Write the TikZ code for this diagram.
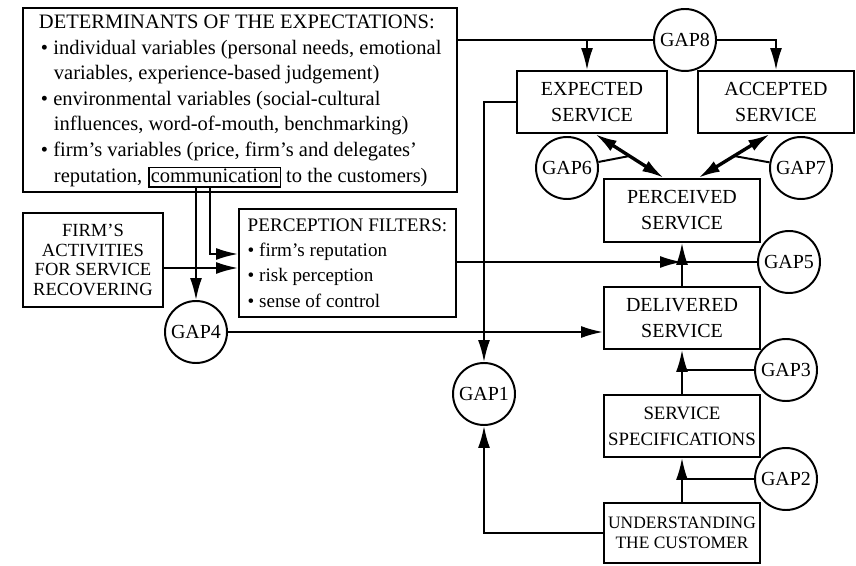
\documentclass[tikz,border=0pt]{standalone}
\usepackage{fontspec}
\setmainfont{Liberation Serif}
\usetikzlibrary{arrows.meta}
\tikzstyle{every picture}=[line width=1.4pt, >={Latex[length=5.5mm,width=3mm]}]
\tikzstyle{thickarrow}=[line width=2.4pt]
\tikzstyle{servicebox}=[rectangle, draw, align=center, inner sep=0pt, font=\fontsize{14.2}{18.5}\selectfont]
\tikzstyle{gap}=[circle, draw, minimum size=15.5mm, inner sep=0pt, font=\fontsize{14.2}{16}\selectfont]
\tikzstyle{txt}=[anchor=base west, inner sep=0pt, font=\fontsize{14.6}{16}\selectfont]
\tikzstyle{commbox}=[draw, line width=1pt, inner xsep=0.5mm, inner ysep=0.3mm, text height=3.5mm, text depth=0.7mm]

\begin{document}
\begin{tikzpicture}[x=0.25mm, y=-0.25mm]
\useasboundingbox (0,0) rectangle (856,566);

	% boxes
	\path (240,100) node[rectangle, draw, minimum width=108.5mm, minimum height=46mm] (det) {}
	  (93,260) node[servicebox, font=\fontsize{13.2}{13.9}\selectfont, minimum width=35mm, minimum height=23.5mm] (firm) {FIRM'S\\ACTIVITIES\\FOR SERVICE\\RECOVERING}
	  (347.5,263) node[servicebox, align=left, font=\fontsize{13.6}{18.1}\selectfont, minimum width=54.25mm, minimum height=27mm] (filt) {PERCEPTION FILTERS:\\\textbullet\ firm's reputation\\\textbullet\ risk perception\\\textbullet\ sense of control}
	  (592,102) node[servicebox, minimum width=37.5mm, minimum height=15.5mm] (exp) {EXPECTED\\SERVICE}
	  (776,102) node[servicebox, minimum width=39mm, minimum height=15.5mm] (acc) {ACCEPTED\\SERVICE}
	  (682,210.5) node[servicebox, minimum width=39mm, minimum height=15.75mm] (perc) {PERCEIVED\\SERVICE}
	  (682,318) node[servicebox, minimum width=39mm, minimum height=15.5mm] (deliv) {DELIVERED\\SERVICE}
	  (682,426) node[servicebox, font=\fontsize{13.4}{18.5}\selectfont, minimum width=39mm, minimum height=15.5mm] (spec) {SERVICE\\SPECIFICATIONS}
	  (682,533) node[servicebox, font=\fontsize{12.4}{14.2}\selectfont, minimum width=39mm, minimum height=15mm] (und) {UNDERSTANDING\\THE CUSTOMER};

	% text of the determinants
	\path (38,29) node[txt] (d0) {DETERMINANTS OF THE EXPECTATIONS:}
	  (40,55) node[txt] (d1) {\textbullet\ individual variables (personal needs, emotional}
	  (53,80) node[txt] (d2) {variables, experience-based judgement)}
	  (40,106) node[txt] (d3) {\textbullet\ environmental variables (social-cultural}
	  (53,131) node[txt] (d4) {influences, word-of-mouth, benchmarking)}
	  (40,157) node[txt] (d5) {\textbullet\ firm's variables (price, firm's and delegates'}
	  (53,183) node[txt] (d6) {reputation,};
	\node[txt, commbox] (comm) at ([xshift=1.2mm]d6.base east) {communication};
	\node[txt] (d7) at ([xshift=1mm]comm.base east) {to the customers)};

	% gaps
	\path (685,40) node[gap] (g8) {GAP8}
	  (567,168) node[gap] (g6) {GAP6}
	  (801,168) node[gap] (g7) {GAP7}
	  (789,262) node[gap] (g5) {GAP5}
	  (786,370) node[gap] (g3) {GAP3}
	  (786,479) node[gap] (g2) {GAP2}
	  (484,394) node[gap] (g1) {GAP1}
	  (196,332) node[gap] (g4) {GAP4};

	\draw (det.east |- g8) -- (g8);
	\draw[->] (g8) -| (acc.north);
	\draw[->] ([xshift=-1.25mm]exp.north |- g8) -- ([xshift=-1.25mm]exp.north);
	\draw[thickarrow, <->] ([xshift=0.75mm]exp.south) -- coordinate[midway] (m6) ([xshift=-4.5mm]perc.north);
	\draw[thickarrow, <->] ([xshift=-1.5mm]acc.south) -- coordinate[midway] (m7) ([xshift=4mm]perc.north);
	\draw (g6) -- (m6);
	\draw (g7) -- (m7);
	\draw[->] (exp.west) -| (g1);
	\draw[->] (und.west) -| (g1);
	\draw[->] (comm.south -| g4) -- (g4);
	\draw[->] ([xshift=3.5mm]comm.south -| g4) |- ([yshift=2.25mm]filt.west);
	\draw[->] ([yshift=-2mm]firm.east) -- ([yshift=-1.25mm]filt.west);
	\draw[->] (g4) -- (deliv.west |- g4);
	\draw[->] (filt.east |- g5) -- (deliv.north |- g5);
	\draw (g5) -- (deliv.north |- g5);
	\draw[->] (deliv.north) -- (perc.south);
	\draw[->] (spec.north) -- (deliv.south);
	\draw (g3) -- (spec.north |- g3);
	\draw[->] (und.north) -- (spec.south);
	\draw (g2) -- (und.north |- g2);

\end{tikzpicture}
\end{document}
